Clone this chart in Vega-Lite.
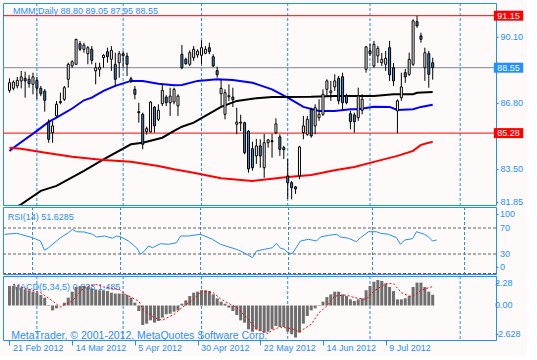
{
  "$schema": "https://vega.github.io/schema/vega-lite/v6.json",
  "background": "#fffafa",
  "padding": {"left": 2, "top": 2, "right": 3, "bottom": 3},
  "autosize": {"type": "pad"},
  "bounds": "flush",
  "spacing": 2,
  "datasets": {
    "candles": [
      {"i":0,"o":87.42,"h":88.02,"l":87.30,"c":87.80},{"i":1,"o":87.52,"h":87.92,"l":87.42,"c":87.83},
      {"i":2,"o":87.64,"h":88.09,"l":87.52,"c":87.92},{"i":3,"o":87.89,"h":88.39,"l":87.52,"c":88.09},
      {"i":4,"o":88.02,"h":88.35,"l":87.05,"c":87.89},{"i":5,"o":87.97,"h":88.18,"l":87.55,"c":87.75},
      {"i":6,"o":87.72,"h":88.30,"l":87.22,"c":88.09},{"i":7,"o":87.92,"h":88.09,"l":86.97,"c":87.52},
      {"i":8,"o":87.52,"h":87.64,"l":87.13,"c":87.25},{"i":9,"o":87.38,"h":87.48,"l":86.35,"c":86.92},
      {"i":10,"o":85.80,"h":85.97,"l":84.80,"c":84.97},{"i":11,"o":85.30,"h":85.88,"l":84.80,"c":85.64},
      {"i":12,"o":86.14,"h":86.88,"l":86.05,"c":86.72},{"i":13,"o":86.80,"h":87.30,"l":86.72,"c":86.86},
      {"i":14,"o":86.97,"h":87.64,"l":86.88,"c":87.55},{"i":15,"o":87.97,"h":88.80,"l":87.55,"c":88.72},
      {"i":16,"o":88.64,"h":88.92,"l":88.55,"c":88.85},{"i":17,"o":88.72,"h":89.99,"l":88.70,"c":89.97},
      {"i":18,"o":89.75,"h":89.88,"l":89.38,"c":89.47},{"i":19,"o":89.47,"h":89.80,"l":89.30,"c":89.68},
      {"i":20,"o":89.25,"h":89.63,"l":88.72,"c":89.55},{"i":21,"o":89.47,"h":89.63,"l":88.72,"c":88.92},
      {"i":22,"o":88.39,"h":88.80,"l":87.72,"c":88.55},{"i":23,"o":88.47,"h":88.80,"l":88.10,"c":88.58},
      {"i":24,"o":89.05,"h":89.22,"l":88.55,"c":89.17},{"i":25,"o":89.35,"h":89.55,"l":88.80,"c":89.10},
      {"i":26,"o":88.97,"h":89.63,"l":88.39,"c":89.42},{"i":27,"o":88.72,"h":89.30,"l":87.63,"c":87.97},
      {"i":28,"o":88.80,"h":89.38,"l":88.05,"c":89.25},{"i":29,"o":89.25,"h":89.38,"l":88.55,"c":89.15},
      {"i":30,"o":89.13,"h":89.30,"l":88.13,"c":88.72},{"i":31,"o":88.00,"h":88.10,"l":87.78,"c":87.88},
      {"i":32,"o":87.47,"h":87.64,"l":86.97,"c":87.22},{"i":33,"o":86.35,"h":86.80,"l":85.80,"c":86.30},
      {"i":34,"o":86.22,"h":86.30,"l":84.47,"c":84.72},{"i":35,"o":85.35,"h":85.60,"l":85.20,"c":85.50},
      {"i":36,"o":85.34,"h":86.88,"l":85.30,"c":86.83},{"i":37,"o":86.58,"h":86.63,"l":85.30,"c":85.64},
      {"i":38,"o":85.97,"h":86.72,"l":85.88,"c":86.42},{"i":39,"o":86.75,"h":87.72,"l":86.63,"c":87.42},
      {"i":40,"o":87.08,"h":87.18,"l":86.63,"c":86.80},{"i":41,"o":86.80,"h":87.55,"l":86.14,"c":87.13},
      {"i":42,"o":86.84,"h":87.55,"l":86.72,"c":87.47},{"i":43,"o":86.64,"h":87.22,"l":86.14,"c":87.13},
      {"i":44,"o":89.22,"h":89.68,"l":88.47,"c":88.55},{"i":45,"o":88.97,"h":89.05,"l":88.70,"c":88.75},
      {"i":46,"o":88.72,"h":89.42,"l":88.64,"c":89.30},{"i":47,"o":89.05,"h":89.63,"l":88.89,"c":89.47},
      {"i":48,"o":89.19,"h":89.47,"l":89.05,"c":89.38},{"i":49,"o":89.17,"h":89.92,"l":88.72,"c":89.55},
      {"i":50,"o":89.27,"h":89.63,"l":89.22,"c":89.47},{"i":51,"o":89.55,"h":89.80,"l":89.22,"c":89.35},
      {"i":52,"o":89.10,"h":89.22,"l":88.58,"c":88.64},{"i":53,"o":88.40,"h":88.60,"l":88.05,"c":88.20},
      {"i":54,"o":87.25,"h":87.97,"l":86.64,"c":87.52},{"i":55,"o":86.22,"h":87.47,"l":85.97,"c":87.30},
      {"i":56,"o":87.10,"h":87.72,"l":86.88,"c":87.15},{"i":57,"o":87.08,"h":87.55,"l":86.58,"c":86.95},
      {"i":58,"o":85.72,"h":86.55,"l":85.22,"c":85.83},{"i":59,"o":85.78,"h":86.20,"l":85.38,"c":85.83},
      {"i":60,"o":85.80,"h":85.85,"l":84.22,"c":84.30},{"i":61,"o":85.38,"h":85.42,"l":83.30,"c":83.49},
      {"i":62,"o":84.50,"h":84.85,"l":83.40,"c":83.55},{"i":63,"o":84.14,"h":84.99,"l":83.74,"c":84.64},
      {"i":64,"o":84.64,"h":84.97,"l":83.55,"c":84.14},{"i":65,"o":83.55,"h":85.24,"l":83.05,"c":84.80},
      {"i":66,"o":84.80,"h":84.99,"l":84.55,"c":84.94},{"i":67,"o":84.90,"h":85.24,"l":84.05,"c":84.85},
      {"i":68,"o":85.30,"h":86.02,"l":85.22,"c":85.74},{"i":69,"o":85.09,"h":85.22,"l":84.14,"c":84.47},
      {"i":70,"o":84.55,"h":84.64,"l":83.99,"c":84.45},{"i":71,"o":83.14,"h":83.99,"l":81.99,"c":82.80},
      {"i":72,"o":82.80,"h":82.89,"l":81.97,"c":82.55},{"i":73,"o":82.59,"h":82.64,"l":82.24,"c":82.49},
      {"i":74,"o":83.14,"h":84.64,"l":82.97,"c":84.59},{"i":75,"o":85.30,"h":86.14,"l":84.97,"c":85.64},
      {"i":76,"o":85.22,"h":86.14,"l":85.14,"c":85.97},{"i":77,"o":86.47,"h":86.55,"l":85.05,"c":85.14},
      {"i":78,"o":85.64,"h":86.72,"l":85.22,"c":86.55},{"i":79,"o":86.05,"h":86.97,"l":85.89,"c":86.22},
      {"i":80,"o":86.22,"h":87.47,"l":86.14,"c":87.22},{"i":81,"o":87.47,"h":87.97,"l":87.14,"c":87.89},
      {"i":82,"o":87.30,"h":87.89,"l":86.89,"c":87.39},{"i":83,"o":87.59,"h":88.22,"l":87.39,"c":87.89},
      {"i":84,"o":88.02,"h":88.14,"l":86.72,"c":86.89},{"i":85,"o":88.10,"h":88.30,"l":86.45,"c":86.80},
      {"i":86,"o":87.14,"h":87.25,"l":86.72,"c":86.80},{"i":87,"o":86.25,"h":86.39,"l":85.47,"c":85.85},
      {"i":88,"o":86.19,"h":86.30,"l":85.30,"c":85.85},{"i":89,"o":86.05,"h":87.55,"l":85.89,"c":87.14},
      {"i":90,"o":86.42,"h":87.22,"l":86.22,"c":86.97},{"i":91,"o":88.47,"h":89.64,"l":88.30,"c":89.59},
      {"i":92,"o":89.39,"h":89.74,"l":89.14,"c":89.25},{"i":93,"o":88.64,"h":89.89,"l":88.55,"c":89.72},
      {"i":94,"o":89.14,"h":89.64,"l":88.79,"c":89.52},{"i":95,"o":88.80,"h":89.29,"l":88.64,"c":88.97},
      {"i":96,"o":88.72,"h":89.39,"l":88.39,"c":89.02},{"i":97,"o":89.55,"h":89.89,"l":87.89,"c":88.19},
      {"i":98,"o":88.55,"h":88.79,"l":87.64,"c":87.89},{"i":99,"o":86.39,"h":86.97,"l":85.28,"c":86.89},
      {"i":100,"o":87.05,"h":88.30,"l":86.89,"c":87.59},{"i":101,"o":88.30,"h":88.49,"l":87.79,"c":88.09},
      {"i":102,"o":88.22,"h":89.30,"l":88.14,"c":88.97},{"i":103,"o":88.72,"h":90.97,"l":88.64,"c":90.89},
      {"i":104,"o":90.85,"h":91.14,"l":90.55,"c":90.64},{"i":105,"o":90.14,"h":90.30,"l":89.80,"c":89.97},
      {"i":106,"o":88.55,"h":89.55,"l":87.89,"c":89.30},{"i":107,"o":89.25,"h":89.39,"l":87.55,"c":88.22},
      {"i":108,"o":88.80,"h":89.05,"l":87.95,"c":88.55}
    ],
    "mas": [
      {"ma":"fast","i":0,"v":84.39},{"ma":"fast","i":1,"v":84.55},{"ma":"fast","i":7,"v":85.39},{"ma":"fast","i":10,"v":85.84},
      {"ma":"fast","i":12,"v":86.05},{"ma":"fast","i":16,"v":86.51},{"ma":"fast","i":19,"v":86.92},{"ma":"fast","i":21,"v":87.05},
      {"ma":"fast","i":24,"v":87.39},{"ma":"fast","i":27,"v":87.64},{"ma":"fast","i":31,"v":87.89},{"ma":"fast","i":34,"v":87.89},
      {"ma":"fast","i":38,"v":87.75},{"ma":"fast","i":42,"v":87.67},{"ma":"fast","i":44,"v":87.69},{"ma":"fast","i":48,"v":87.89},
      {"ma":"fast","i":53,"v":87.97},{"ma":"fast","i":57,"v":87.94},{"ma":"fast","i":62,"v":87.80},{"ma":"fast","i":67,"v":87.47},
      {"ma":"fast","i":71,"v":87.05},{"ma":"fast","i":75,"v":86.59},{"ma":"fast","i":79,"v":86.39},{"ma":"fast","i":83,"v":86.39},
      {"ma":"fast","i":87,"v":86.47},{"ma":"fast","i":89,"v":86.47},{"ma":"fast","i":93,"v":86.60},{"ma":"fast","i":97,"v":86.59},
      {"ma":"fast","i":99,"v":86.44},{"ma":"fast","i":103,"v":86.47},{"ma":"fast","i":105,"v":86.59},{"ma":"fast","i":108,"v":86.70},
      {"ma":"mid","i":0,"v":81.39},{"ma":"mid","i":3,"v":81.72},{"ma":"mid","i":8,"v":82.39},{"ma":"mid","i":12,"v":82.64},
      {"ma":"mid","i":19,"v":83.39},{"ma":"mid","i":24,"v":83.97},{"ma":"mid","i":31,"v":84.72},{"ma":"mid","i":34,"v":84.80},
      {"ma":"mid","i":39,"v":85.05},{"ma":"mid","i":42,"v":85.39},{"ma":"mid","i":44,"v":85.60},{"ma":"mid","i":47,"v":85.80},
      {"ma":"mid","i":50,"v":86.14},{"ma":"mid","i":54,"v":86.59},{"ma":"mid","i":58,"v":86.89},{"ma":"mid","i":63,"v":87.02},
      {"ma":"mid","i":67,"v":87.09},{"ma":"mid","i":71,"v":87.09},{"ma":"mid","i":77,"v":87.10},{"ma":"mid","i":83,"v":87.14},
      {"ma":"mid","i":93,"v":87.14},{"ma":"mid","i":98,"v":87.22},{"ma":"mid","i":103,"v":87.22},{"ma":"mid","i":104,"v":87.30},
      {"ma":"mid","i":108,"v":87.34},
      {"ma":"slow","i":0,"v":84.55},{"ma":"slow","i":3,"v":84.50},{"ma":"slow","i":8,"v":84.34},{"ma":"slow","i":16,"v":84.10},
      {"ma":"slow","i":24,"v":83.94},{"ma":"slow","i":31,"v":83.85},{"ma":"slow","i":38,"v":83.64},{"ma":"slow","i":42,"v":83.47},
      {"ma":"slow","i":47,"v":83.30},{"ma":"slow","i":54,"v":83.02},{"ma":"slow","i":62,"v":82.89},{"ma":"slow","i":67,"v":83.00},
      {"ma":"slow","i":71,"v":83.09},{"ma":"slow","i":77,"v":83.19},{"ma":"slow","i":83,"v":83.42},{"ma":"slow","i":88,"v":83.59},
      {"ma":"slow","i":94,"v":83.89},{"ma":"slow","i":99,"v":84.14},{"ma":"slow","i":103,"v":84.39},{"ma":"slow","i":105,"v":84.69},
      {"ma":"slow","i":108,"v":84.85}
    ],
    "rsi": [
      {"i":0,"v":60.3},{"i":3,"v":61.8},{"i":4,"v":60.3},{"i":7,"v":55.1},{"i":9,"v":50},{"i":10,"v":35.7},{"i":11,"v":39.7},
      {"i":13,"v":50},{"i":14,"v":55.1},{"i":16,"v":62.8},{"i":17,"v":68},{"i":18,"v":64.3},{"i":20,"v":63.8},{"i":22,"v":60.3},
      {"i":23,"v":56.2},{"i":25,"v":57.7},{"i":27,"v":54.2},{"i":28,"v":57.7},{"i":29,"v":56.6},{"i":31,"v":50},{"i":33,"v":39.7},
      {"i":34,"v":29.5},{"i":35,"v":34.6},{"i":36,"v":42.3},{"i":37,"v":39.7},{"i":39,"v":45.8},{"i":41,"v":44.9},{"i":43,"v":47.4},
      {"i":44,"v":57.7},{"i":46,"v":57.7},{"i":49,"v":60.3},{"i":52,"v":52.6},{"i":54,"v":44.9},{"i":58,"v":37.2},{"i":59,"v":34.6},
      {"i":61,"v":28},{"i":62,"v":24.3},{"i":63,"v":34.6},{"i":65,"v":37.2},{"i":67,"v":39.7},{"i":68,"v":46.4},{"i":69,"v":38.8},
      {"i":70,"v":37.2},{"i":71,"v":31},{"i":72,"v":31},{"i":74,"v":50},{"i":76,"v":52.6},{"i":78,"v":50},{"i":79,"v":56.2},
      {"i":81,"v":58.7},{"i":83,"v":60.3},{"i":84,"v":56.2},{"i":86,"v":54.2},{"i":88,"v":48.9},{"i":89,"v":55.1},{"i":91,"v":64.3},
      {"i":93,"v":64.3},{"i":94,"v":61.8},{"i":96,"v":60.3},{"i":98,"v":55.1},{"i":99,"v":44.9},{"i":100,"v":51.5},{"i":102,"v":53.5},
      {"i":103,"v":64.3},{"i":105,"v":60.3},{"i":106,"v":56.2},{"i":107,"v":50},{"i":108,"v":51.63}
    ],
    "hist": [
      {"i":0,"v":1.52},{"i":1,"v":1.52},{"i":2,"v":1.45},{"i":3,"v":1.39},{"i":4,"v":1.26},{"i":5,"v":1.19},{"i":6,"v":1.08},
      {"i":7,"v":1.00},{"i":8,"v":0.82},{"i":9,"v":0.61},{"i":10,"v":-0.04},{"i":11,"v":-0.38},{"i":12,"v":-0.22},{"i":13,"v":0.01},
      {"i":14,"v":0.22},{"i":15,"v":0.61},{"i":16,"v":1.08},{"i":17,"v":1.45},{"i":18,"v":1.52},{"i":19,"v":1.52},{"i":20,"v":1.45},
      {"i":21,"v":1.34},{"i":22,"v":1.26},{"i":23,"v":1.19},{"i":24,"v":1.19},{"i":25,"v":1.13},{"i":26,"v":1.00},{"i":27,"v":0.93},
      {"i":28,"v":0.93},{"i":29,"v":0.93},{"i":30,"v":0.82},{"i":31,"v":0.61},{"i":32,"v":0.22},{"i":33,"v":-0.43},{"i":34,"v":-1.52},
      {"i":35,"v":-1.42},{"i":36,"v":-1.16},{"i":37,"v":-1.34},{"i":38,"v":-1.21},{"i":39,"v":-0.95},{"i":40,"v":-0.69},{"i":41,"v":-0.64},
      {"i":42,"v":-0.48},{"i":43,"v":-0.38},{"i":44,"v":0.14},{"i":45,"v":0.40},{"i":46,"v":0.74},{"i":47,"v":1.00},{"i":48,"v":1.08},
      {"i":49,"v":1.19},{"i":50,"v":1.19},{"i":51,"v":1.13},{"i":52,"v":0.87},{"i":53,"v":0.56},{"i":54,"v":0.30},{"i":55,"v":0.14},
      {"i":56,"v":-0.17},{"i":57,"v":-0.43},{"i":58,"v":-0.74},{"i":59,"v":-1.16},{"i":60,"v":-1.34},{"i":61,"v":-1.86},{"i":62,"v":-2.05},
      {"i":63,"v":-1.86},{"i":64,"v":-1.99},{"i":65,"v":-2.12},{"i":66,"v":-2.05},{"i":67,"v":-1.86},{"i":68,"v":-1.60},{"i":69,"v":-1.68},
      {"i":70,"v":-1.68},{"i":71,"v":-2.05},{"i":72,"v":-2.25},{"i":73,"v":-2.51},{"i":74,"v":-2.12},{"i":75,"v":-1.42},{"i":76,"v":-0.82},
      {"i":77,"v":-0.38},{"i":78,"v":-0.22},{"i":79,"v":-0.04},{"i":80,"v":0.30},{"i":81,"v":0.66},{"i":82,"v":0.87},{"i":83,"v":1.08},
      {"i":84,"v":1.08},{"i":85,"v":0.87},{"i":86,"v":0.74},{"i":87,"v":0.48},{"i":88,"v":0.35},{"i":89,"v":0.48},{"i":90,"v":0.56},
      {"i":91,"v":1.19},{"i":92,"v":1.52},{"i":93,"v":1.86},{"i":94,"v":1.99},{"i":95,"v":1.92},{"i":96,"v":1.71},{"i":97,"v":1.45},
      {"i":98,"v":1.13},{"i":99,"v":0.48},{"i":100,"v":0.48},{"i":101,"v":0.56},{"i":102,"v":0.74},{"i":103,"v":1.45},{"i":104,"v":1.79},
      {"i":105,"v":1.79},{"i":106,"v":1.45},{"i":107,"v":1.08},{"i":108,"v":0.84}
    ],
    "signal": [
      {"i":1,"v":1.65},{"i":4,"v":1.34},{"i":8,"v":1.00},{"i":11,"v":0.35},{"i":13,"v":-0.12},{"i":16,"v":0.35},{"i":18,"v":1.05},
      {"i":19,"v":1.40},{"i":22,"v":1.65},{"i":24,"v":1.45},{"i":28,"v":1.26},{"i":30,"v":0.79},{"i":33,"v":0.35},{"i":34,"v":-0.30},
      {"i":37,"v":-0.95},{"i":39,"v":-1.16},{"i":42,"v":-0.69},{"i":44,"v":-0.17},{"i":47,"v":0.48},{"i":49,"v":1.13},{"i":52,"v":1.00},
      {"i":54,"v":0.48},{"i":58,"v":-0.17},{"i":61,"v":-1.08},{"i":63,"v":-1.86},{"i":66,"v":-2.20},{"i":67,"v":-1.94},{"i":69,"v":-1.68},
      {"i":72,"v":-1.81},{"i":74,"v":-2.05},{"i":77,"v":-1.47},{"i":79,"v":-0.56},{"i":81,"v":-0.04},{"i":83,"v":0.74},{"i":86,"v":0.82},
      {"i":88,"v":0.61},{"i":91,"v":0.48},{"i":93,"v":1.13},{"i":96,"v":1.71},{"i":98,"v":1.71},{"i":100,"v":1.00},{"i":102,"v":0.74},
      {"i":103,"v":0.74},{"i":105,"v":1.19},{"i":108,"v":1.485}
    ],
    "grid": [{"i":7},{"i":29},{"i":49},{"i":71},{"i":92},{"i":115}],
    "levels": [{"p":91.15,"kind":"high"},{"p":88.55,"kind":"bid"},{"p":85.28,"kind":"low"}],
    "rsiLevels": [{"v":70},{"v":30},{"v":0}],
    "rsiScale": [{"v":91.5,"t":"100"},{"v":70,"t":"70"},{"v":30,"t":"30"},{"v":10.5,"t":"0"}],
    "macdScale": [{"v":1.74,"t":"2.28"},{"v":0,"t":"0.00"},{"v":-2.2,"t":"-2.628"}],
    "one": [{}]
  },
  "vconcat": [
    {
      "width": 493,
      "height": 202,
      "layer": [
        {
          "data": {"name": "grid"},
          "mark": {"type": "rule", "color": "#1e90ff", "strokeWidth": 1, "strokeDash": [3, 2]},
          "encoding": {"x": {"field": "i", "type": "quantitative", "scale": {"domain": [-0.375, 122.875], "nice": false, "zero": false}, "axis": null}}
        },
        {
          "data": {"name": "levels"},
          "mark": {"type": "rule", "strokeWidth": 1},
          "encoding": {
            "y": {"field": "p", "type": "quantitative", "scale": {"domain": [81.685, 91.785], "nice": false, "zero": false},
                  "axis": {"orient": "right", "values": [90.1, 86.8, 83.5, 81.85], "format": ".2f", "title": null, "tickSize": 2, "labelPadding": 2, "labelFlush": false, "labelOverlap": false}},
            "stroke": {"field": "kind", "type": "nominal", "scale": {"domain": ["high", "bid", "low"], "range": ["#ff0000", "#778899", "#ff0000"]}, "legend": null}
          }
        },
        {
          "data": {"name": "mas"},
          "mark": {"type": "line", "strokeWidth": 2, "clip": true},
          "encoding": {
            "x": {"field": "i", "type": "quantitative", "scale": {"domain": [-0.375, 122.875], "nice": false, "zero": false}, "axis": null},
            "y": {"field": "v", "type": "quantitative", "scale": {"domain": [81.685, 91.785], "nice": false, "zero": false}},
            "color": {"field": "ma", "type": "nominal", "scale": {"domain": ["fast", "mid", "slow"], "range": ["#0000ff", "#000000", "#ff0000"]}, "legend": null},
            "order": {"field": "i", "type": "quantitative"}
          }
        },
        {
          "data": {"name": "candles"},
          "mark": {"type": "rule", "color": "#000000", "strokeWidth": 1, "clip": true},
          "encoding": {
            "x": {"field": "i", "type": "quantitative", "scale": {"domain": [-0.375, 122.875], "nice": false, "zero": false}, "axis": null},
            "y": {"field": "l", "type": "quantitative", "scale": {"domain": [81.685, 91.785], "nice": false, "zero": false}},
            "y2": {"field": "h"}
          }
        },
        {
          "data": {"name": "candles"},
          "mark": {"type": "bar", "size": 2, "stroke": "#000000", "strokeWidth": 1, "clip": true},
          "encoding": {
            "x": {"field": "i", "type": "quantitative", "scale": {"domain": [-0.375, 122.875], "nice": false, "zero": false}, "axis": null},
            "y": {"field": "o", "type": "quantitative", "scale": {"domain": [81.685, 91.785], "nice": false, "zero": false}},
            "y2": {"field": "c"},
            "fill": {"condition": {"test": "datum.c >= datum.o", "value": "#ffffff"}, "value": "#3d85c6"}
          }
        },
        {
          "data": {"name": "one"},
          "mark": {"type": "text", "align": "left", "baseline": "middle", "font": "Liberation Sans", "fontSize": 9, "color": "#1e90ff"},
          "encoding": {
            "x": {"datum": 0.9, "type": "quantitative", "scale": {"domain": [-0.375, 122.875], "nice": false, "zero": false}, "axis": null},
            "y": {"datum": 91.385, "type": "quantitative", "scale": {"domain": [81.685, 91.785], "nice": false, "zero": false}},
            "text": {"value": "MMM,Daily  88.80 89.05 87.95 88.55"}
          }
        },
        {
          "data": {"name": "levels"},
          "mark": {"type": "rect", "yOffset": -5, "y2Offset": 5, "clip": false},
          "encoding": {
            "x": {"datum": 123.6, "type": "quantitative", "scale": {"domain": [-0.375, 122.875], "nice": false, "zero": false}, "axis": null},
            "x2": {"datum": 131.1},
            "y": {"field": "p", "type": "quantitative", "scale": {"domain": [81.685, 91.785], "nice": false, "zero": false}},
            "y2": {"field": "p"},
            "fill": {"field": "kind", "type": "nominal", "scale": {"domain": ["high", "bid", "low"], "range": ["#ff0000", "#1e90ff", "#ff0000"]}, "legend": null}
          }
        },
        {
          "data": {"name": "levels"},
          "mark": {"type": "text", "align": "center", "baseline": "middle", "font": "Liberation Sans", "fontSize": 9, "color": "#ffffff", "clip": false},
          "encoding": {
            "x": {"datum": 127.35, "type": "quantitative", "scale": {"domain": [-0.375, 122.875], "nice": false, "zero": false}, "axis": null},
            "y": {"field": "p", "type": "quantitative", "scale": {"domain": [81.685, 91.785], "nice": false, "zero": false}},
            "text": {"field": "p", "type": "quantitative", "format": ".2f"}
          }
        }
      ]
    },
    {
      "width": 493,
      "height": 67,
      "layer": [
        {
          "data": {"name": "grid"},
          "mark": {"type": "rule", "color": "#1e90ff", "strokeWidth": 1, "strokeDash": [3, 2]},
          "encoding": {"x": {"field": "i", "type": "quantitative", "scale": {"domain": [-0.375, 122.875], "nice": false, "zero": false}, "axis": null}}
        },
        {
          "data": {"name": "rsiLevels"},
          "mark": {"type": "rule", "color": "#606060", "strokeWidth": 1, "strokeDash": [3, 2]},
          "encoding": {
            "y": {"field": "v", "type": "quantitative", "scale": {"domain": [-0.77, 102.31], "nice": false, "zero": false},
                  "axis": {"orient": "right", "values": [91.5, 70, 30, 10.5], "title": null, "tickSize": 2, "labels": false}}
          }
        },
        {
          "data": {"name": "rsiScale"},
          "mark": {"type": "text", "align": "left", "baseline": "middle", "font": "Liberation Sans", "fontSize": 9, "color": "#1e90ff", "clip": false},
          "encoding": {
            "x": {"datum": 123.9, "type": "quantitative", "scale": {"domain": [-0.375, 122.875], "nice": false, "zero": false}, "axis": null},
            "y": {"field": "v", "type": "quantitative", "scale": {"domain": [-0.77, 102.31], "nice": false, "zero": false}},
            "text": {"field": "t"}
          }
        },
        {
          "data": {"name": "one"},
          "mark": {"type": "text", "align": "left", "baseline": "middle", "font": "Liberation Sans", "fontSize": 9, "color": "#1e90ff"},
          "encoding": {
            "x": {"datum": 0.8, "type": "quantitative", "scale": {"domain": [-0.375, 122.875], "nice": false, "zero": false}, "axis": null},
            "y": {"datum": 87, "type": "quantitative", "scale": {"domain": [-0.77, 102.31], "nice": false, "zero": false}},
            "text": {"value": "RSI(14) 51.6285"}
          }
        },
        {
          "data": {"name": "rsi"},
          "mark": {"type": "line", "color": "#1e90ff", "strokeWidth": 1, "clip": true},
          "encoding": {
            "x": {"field": "i", "type": "quantitative", "scale": {"domain": [-0.375, 122.875], "nice": false, "zero": false}, "axis": null},
            "y": {"field": "v", "type": "quantitative", "scale": {"domain": [-0.77, 102.31], "nice": false, "zero": false}}
          }
        }
      ]
    },
    {
      "width": 493,
      "height": 64,
      "layer": [
        {
          "data": {"name": "grid"},
          "mark": {"type": "rule", "color": "#1e90ff", "strokeWidth": 1, "strokeDash": [3, 2]},
          "encoding": {"x": {"field": "i", "type": "quantitative", "scale": {"domain": [-0.375, 122.875], "nice": false, "zero": false},
            "axis": {"orient": "bottom", "values": [0, 16, 32, 48, 64, 80, 96], "title": null, "tickSize": 5, "labelPadding": -2, "labelAlign": "left", "labelOffset": 3, "labelFlush": false, "labelOverlap": false,
                     "labelExpr": "['21 Feb 2012','14 Mar 2012','5 Apr 2012','30 Apr 2012','22 May 2012','14 Jun 2012','9 Jul 2012'][round(datum.value/16)]"}}}
        },
        {
          "data": {"name": "one"},
          "mark": {"type": "text", "align": "left", "baseline": "middle", "font": "Liberation Sans", "fontSize": 9, "color": "#1e90ff"},
          "encoding": {
            "x": {"datum": 0.8, "type": "quantitative", "scale": {"domain": [-0.375, 122.875], "nice": false, "zero": false}},
            "y": {"datum": 1.45, "type": "quantitative", "scale": {"domain": [-2.697, 2.306], "nice": false, "zero": false}},
            "text": {"value": "MACD(5,34,5) 0.838 1.485"}
          }
        },
        {
          "data": {"name": "hist"},
          "mark": {"type": "bar", "size": 3, "color": "#6e6e6e", "clip": true},
          "encoding": {
            "x": {"field": "i", "type": "quantitative", "scale": {"domain": [-0.375, 122.875], "nice": false, "zero": false}},
            "y": {"field": "v", "type": "quantitative", "scale": {"domain": [-2.697, 2.306], "nice": false, "zero": false},
                  "axis": {"orient": "right", "values": [1.74, 0.0001, -2.2], "title": null, "tickSize": 2, "labels": false}},
            "y2": {"datum": 0}
          }
        },
        {
          "data": {"name": "macdScale"},
          "mark": {"type": "text", "align": "left", "baseline": "middle", "font": "Liberation Sans", "fontSize": 9, "color": "#1e90ff", "clip": false},
          "encoding": {
            "x": {"datum": 123.9, "type": "quantitative", "scale": {"domain": [-0.375, 122.875], "nice": false, "zero": false}},
            "y": {"field": "v", "type": "quantitative", "scale": {"domain": [-2.697, 2.306], "nice": false, "zero": false}},
            "text": {"field": "t"}
          }
        },
        {
          "data": {"name": "signal"},
          "mark": {"type": "line", "color": "#ff0000", "strokeWidth": 1, "strokeDash": [2, 2], "clip": true},
          "encoding": {
            "x": {"field": "i", "type": "quantitative", "scale": {"domain": [-0.375, 122.875], "nice": false, "zero": false}},
            "y": {"field": "v", "type": "quantitative", "scale": {"domain": [-2.697, 2.306], "nice": false, "zero": false}}
          }
        },
        {
          "data": {"name": "one"},
          "mark": {"type": "text", "align": "left", "baseline": "middle", "font": "Liberation Sans", "fontSize": 10.5, "color": "#1e90ff"},
          "encoding": {
            "x": {"datum": 0.45, "type": "quantitative", "scale": {"domain": [-0.375, 122.875], "nice": false, "zero": false}},
            "y": {"datum": -2.38, "type": "quantitative", "scale": {"domain": [-2.697, 2.306], "nice": false, "zero": false}},
            "text": {"value": "MetaTrader, © 2001-2012, MetaQuotes Software Corp."}
          }
        }
      ]
    }
  ],
  "config": {
    "view": {"stroke": "#1e90ff", "strokeWidth": 1, "fill": "#fffafa"},
    "axis": {"labelFont": "Liberation Sans", "labelFontSize": 9, "labelColor": "#1e90ff", "tickColor": "#1e90ff", "tickWidth": 1, "domain": false, "grid": false, "labelOverlap": false},
    "text": {"font": "Liberation Sans"}
  }
}
